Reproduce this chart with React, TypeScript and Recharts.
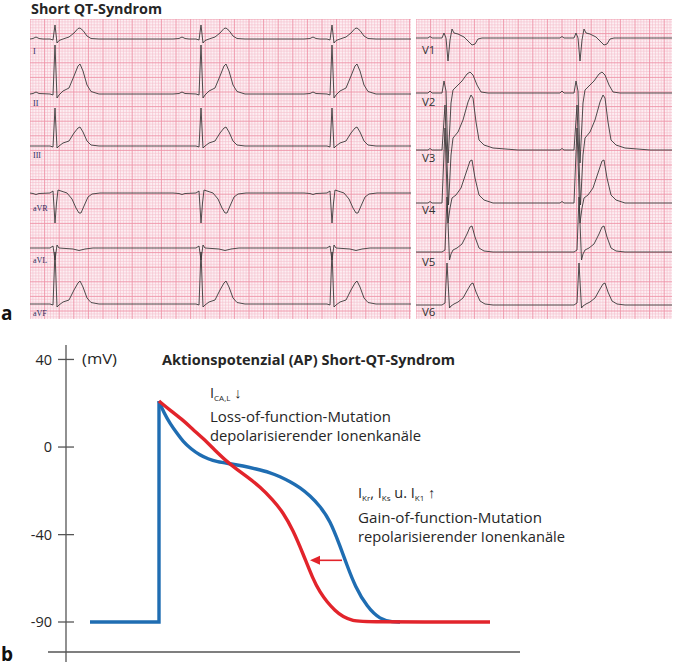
import React from "react";
import { LineChart, Line, XAxis, YAxis, ReferenceLine, ReferenceArea } from "recharts";

type Pt = [number, number];

// ================= Panel a: ECG (units: px of paper, amplitude up from lead baseline) =================
const limbLeadNames = ["I", "II", "III", "aVR", "aVL", "aVF"];
const chestLeadNames = ["V1", "V2", "V3", "V4", "V5", "V6"];
const limbBeatTimes = [25, 171, 302];
const chestBeatTimes = [32, 164];

// one beat per lead: [time offset from QRS, amplitude]
const leadI: Pt[] = [[-28, 0], [-22, 0.5], [-19, 2], [-16, 0.5], [-12, 0], [-5, 0], [-2, -1], [0, 14], [2, -4], [4, -1.5], [8, 0], [14, 2], [19, 6], [23, 10.5], [25, 11], [28, 8.5], [32, 3], [36, 0.5], [44, 0]];
const leadII: Pt[] = [[-28, 0], [-22, 0.5], [-19, 2], [-16, 0.5], [-5, 0], [-2, -1], [0, 49], [2, -4], [4, -1], [8, 3], [14, 6], [19, 18], [23, 28], [25, 30], [28, 23], [32, 9], [36, 2.5], [44, 0]];
const leadIII: Pt[] = [[-28, 0], [-5, 0], [-2, -1], [0, 38], [2, -2], [4, 0], [8, 3], [14, 5], [19, 13], [23, 18], [25, 19], [28, 14], [32, 5], [36, 1], [44, 0]];
const leadAVR: Pt[] = [[-28, 0], [-22, -0.5], [-19, -1.5], [-16, -0.5], [-5, 0], [-2, 2], [0, -30], [1.5, -10], [3, 3], [6, 2], [12, 0], [17, -6], [21, -15], [24, -20], [26, -20], [29, -13], [33, -4], [37, -1], [45, 0]];
const leadAVL: Pt[] = [[-28, 0], [-5, 0], [-2, 2], [0, -12], [2, 3], [4, 0], [18, -1], [24, -2.5], [30, -1], [38, 0]];
const leadAVF: Pt[] = [[-28, 0], [-5, 0], [-2, -1], [0, 52], [2, -3], [4, -1], [8, 2], [14, 4], [19, 14], [23, 21], [25, 23], [28, 17], [32, 6], [36, 1.5], [44, 0]];

const leadV1: Pt[] = [[-30, 0], [-20, 0], [-18, 1.5], [-16, 0], [-6, 0], [-4, 5], [-2, 0], [0, -23], [2, -2], [4, 9], [6, 5], [10, 4], [16, 1], [20, -3], [24, -7], [27, -6], [30, -1], [34, 0]];
const leadV2: Pt[] = [[-30, 0], [-20, 0], [-18, 2], [-16, 0], [-6, 0], [-4, 12], [-2, 2], [0, -70], [3, -10], [5, 3], [8, 6], [14, 12], [19, 19], [22, 21], [25, 18], [29, 8], [33, 1], [40, 0]];
const leadV3: Pt[] = [[-30, 0], [-20, 0], [-18, 1.5], [-16, 0], [-6, 0], [-3, 45], [0.5, -55], [3, -5], [5, 12], [10, 18], [15, 30], [20, 48], [23, 55], [25, 52], [28, 28], [31, 10], [36, 5], [45, 2], [70, 0]];
const leadV4: Pt[] = [[-30, 0], [-20, 0], [-18, 1.5], [-16, 0], [-6, 0], [-3, 75], [0, -20], [2, -5], [4, 5], [8, 8], [13, 15], [18, 30], [22, 42], [24, 43], [27, 25], [31, 8], [36, 3], [45, 0]];
const leadV5: Pt[] = [[-30, 0], [-6, 0], [-3, 2], [-1, 55], [1.5, -8], [3, -2], [5, 2], [9, 4], [14, 8], [19, 18], [22, 25], [24, 26], [27, 15], [31, 4], [36, 1], [45, 0]];
const leadV6: Pt[] = [[-30, 0], [-6, 0], [-3, 2], [-1, 42], [1.5, -3], [3, -1], [6, 1], [10, 3], [15, 7], [20, 16], [23, 21], [25, 22], [28, 13], [32, 4], [37, 1], [45, 0]];

const limbTemplates = [leadI, leadII, leadIII, leadAVR, leadAVL, leadAVF];
const chestTemplates = [leadV1, leadV2, leadV3, leadV4, leadV5, leadV6];

// layout of the strips (distance of each lead baseline below strip top)
const limbBaselines = [20, 75, 127, 174, 229, 285];
const chestBaselines = [19, 74, 131, 184, 233, 286];
const LIMB_W = 381;
const CHEST_W = 256;
const ECG_H = 300;
const MINOR = 2.92;

// ================= Panel b: action potential =================
const yTickValuesMv = [40, 0, -40, -90];
// [time, mV]
const blueRestMv: Pt[] = [[24, -90], [93, -90], [93, 21]];
const blueApMv: Pt[] = [[93, 21], [98, 15.5], [104, 10.8], [111, 6.2], [117, 2.6], [125, -0.9], [134, -3.7], [142, -5.4], [151, -6.7], [164, -7.6], [177, -8.6], [190, -10], [204, -11.6], [214, -13.5], [224, -15.8], [234, -18.5], [244, -22.2], [254, -27], [264, -33.5], [274, -46.5], [281, -57.5], [289, -69.5], [301, -81.4], [314, -88.6], [327, -90], [334, -90]];
const redApMv: Pt[] = [[93, 21], [105, 16.5], [117, 12.3], [127, 8], [137, 4], [149, -1.5], [161, -6.7], [171, -10.2], [181, -13.6], [194, -18.1], [207, -24.2], [217, -29.8], [227, -37.9], [237, -50.9], [247, -65.5], [254, -73], [261, -78.5], [269, -83.5], [277, -87.1], [287, -89.3], [297, -90], [424, -90]];
const arrowMv: Pt[] = [[276, -54.7], [254, -54.7]];

// the drawn axis is compressed below -40 mV
const toAxis = (v: number) => (v >= -40 ? v : -40 + (v + 40) * 0.798);
const AP_DOMAIN: [number, number] = [-93.6, 46.6];

const BLUE = "#1f6db2";
const RED = "#e2242b";
const TEXT = "#262626";
const SANS = "'Open Sans', 'Noto Sans', sans-serif";

function buildTrace(tpl: Pt[], beats: number[], base: number, width: number) {
  const pts: { t: number; v: number }[] = [{ t: 0, v: -base }];
  beats.forEach((b) =>
    tpl.forEach(([dx, dy]) => {
      const t = b + dx;
      if (t > 0 && t < width) pts.push({ t, v: dy - base });
    })
  );
  pts.push({ t: width, v: -base });
  return pts;
}

function steps(max: number, step: number) {
  const out: { v: number; major: boolean }[] = [];
  for (let i = 0; i * step <= max + 0.01; i++) out.push({ v: +(i * step).toFixed(2), major: i % 5 === 0 });
  return out;
}

function EcgStrip({ width, templates, beats, baselines }: { width: number; templates: Pt[][]; beats: number[]; baselines: number[] }) {
  const xs = steps(width, MINOR);
  const ys = steps(ECG_H, MINOR);
  const minorStyle = { stroke: "#f5c0cc", strokeWidth: 0.6 };
  const majorStyle = { stroke: "#ee93a7", strokeWidth: 0.9 };
  return (
    <LineChart width={width} height={ECG_H} margin={{ top: 0, right: 0, bottom: 0, left: 0 }}>
      <XAxis type="number" dataKey="t" domain={[0, width]} hide allowDataOverflow />
      <YAxis type="number" dataKey="v" domain={[-ECG_H, 0]} hide allowDataOverflow />
      <ReferenceArea x1={0} x2={width} y1={-ECG_H} y2={0} fill="#fdeff3" fillOpacity={1} stroke="none" ifOverflow="visible" />
      {xs.filter((g) => !g.major).map((g) => (
        <ReferenceLine key={`vx${g.v}`} x={g.v} {...minorStyle} ifOverflow="visible" />
      ))}
      {ys.filter((g) => !g.major).map((g) => (
        <ReferenceLine key={`hy${g.v}`} y={-g.v} {...minorStyle} ifOverflow="visible" />
      ))}
      {xs.filter((g) => g.major).map((g) => (
        <ReferenceLine key={`VX${g.v}`} x={g.v} {...majorStyle} ifOverflow="visible" />
      ))}
      {ys.filter((g) => g.major).map((g) => (
        <ReferenceLine key={`HY${g.v}`} y={-g.v} {...majorStyle} ifOverflow="visible" />
      ))}
      {templates.map((tpl, i) => (
        <Line
          key={i}
          data={buildTrace(tpl, beats, baselines[i], width)}
          dataKey="v"
          type="linear"
          stroke="#3a3a3a"
          strokeWidth={0.9}
          dot={false}
          activeDot={false}
          isAnimationActive={false}
        />
      ))}
    </LineChart>
  );
}

const toRows = (pts: Pt[]) => pts.map(([t, v]) => ({ t, v: toAxis(v) }));

const ArrowHead = (props: any) => {
  const { cx, cy, index } = props;
  if (index !== 1) return <g key={`a${index}`} />;
  return <polygon key={`a${index}`} points={`${cx - 10},${cy} ${cx},${cy - 4.5} ${cx},${cy + 4.5}`} fill={RED} />;
};

function ApChart() {
  const ticks = yTickValuesMv.map(toAxis);
  const labelOf = (v: number) => {
    const i = ticks.findIndex((t) => Math.abs(t - v) < 0.01);
    return i >= 0 ? String(yTickValuesMv[i]) : "";
  };
  return (
    <LineChart width={674} height={336} margin={{ top: 15, right: 154, bottom: 14, left: 6 }}>
      <XAxis type="number" dataKey="t" domain={[0, 454]} hide allowDataOverflow />
      <YAxis
        type="number"
        dataKey="v"
        width={60}
        domain={AP_DOMAIN}
        ticks={ticks}
        tickFormatter={labelOf}
        axisLine={false}
        tickLine={false}
        tickSize={8}
        tickMargin={6}
        allowDataOverflow
        tick={{ fontSize: 14.5, fill: TEXT, fontFamily: SANS }}
      />
      <ReferenceLine segment={[{ x: 0, y: AP_DOMAIN[1] }, { x: 0, y: -98.2 }]} stroke="#555" strokeWidth={1.3} ifOverflow="visible" />
      <ReferenceLine segment={[{ x: -18, y: AP_DOMAIN[0] }, { x: 454, y: AP_DOMAIN[0] }]} stroke="#555" strokeWidth={1.3} ifOverflow="visible" />
      {ticks.map((t) => (
        <ReferenceLine key={t} segment={[{ x: -8, y: t }, { x: 8, y: t }]} stroke="#555" strokeWidth={1.3} ifOverflow="visible" />
      ))}
      <Line data={toRows(blueRestMv)} dataKey="v" type="linear" stroke={BLUE} strokeWidth={3.4} dot={false} activeDot={false} isAnimationActive={false} />
      <Line data={toRows(blueApMv)} dataKey="v" type="basis" stroke={BLUE} strokeWidth={3.4} dot={false} activeDot={false} isAnimationActive={false} />
      <Line data={toRows(redApMv)} dataKey="v" type="basis" stroke={RED} strokeWidth={3.4} dot={false} activeDot={false} isAnimationActive={false} />
      <Line data={toRows(arrowMv)} dataKey="v" type="linear" stroke={RED} strokeWidth={1.6} dot={ArrowHead} activeDot={false} isAnimationActive={false} />
    </LineChart>
  );
}

export default function App() {
  const limbLabelY = [54, 106, 158, 211, 263, 316];
  const chestLabelY = [54, 106, 162, 214, 266, 316];
  return (
    <div style={{ position: "absolute", left: 0, top: 0, width: 674, height: 666, background: "#fff" }}>
      <div style={{ position: "absolute", left: 30, top: 19 }}>
        <EcgStrip width={LIMB_W} templates={limbTemplates} beats={limbBeatTimes} baselines={limbBaselines} />
      </div>
      <div style={{ position: "absolute", left: 416, top: 19 }}>
        <EcgStrip width={CHEST_W} templates={chestTemplates} beats={chestBeatTimes} baselines={chestBaselines} />
      </div>
      <div style={{ position: "absolute", left: 0, top: 330 }}>
        <ApChart />
      </div>
      <svg width={674} height={666} style={{ position: "absolute", left: 0, top: 0, pointerEvents: "none" }}>
        <g fontFamily={SANS} fill={TEXT}>
          <text x={31} y={13.5} fontSize={14} fontWeight={700} textLength={131} lengthAdjust="spacingAndGlyphs">Short QT-Syndrom</text>
          <text x={1} y={320} fontSize={19} fontWeight={700} fill="#111">a</text>
          <text x={1} y={661} fontSize={19} fontWeight={700} fill="#111">b</text>
          {limbLeadNames.map((n, i) => (
            <text key={n} x={33} y={limbLabelY[i]} fontSize={8} fontFamily="'Liberation Serif', serif" fill="#2d2d5c">{n}</text>
          ))}
          {chestLeadNames.map((n, i) => (
            <text key={n} x={422} y={chestLabelY[i]} fontSize={11.5} fill="#333">{n}</text>
          ))}
          <text x={82} y={364} fontSize={14.5} textLength={35} lengthAdjust="spacingAndGlyphs">(mV)</text>
          <text x={162} y={365} fontSize={14.5} fontWeight={700} textLength={293} lengthAdjust="spacingAndGlyphs">Aktionspotenzial (AP) Short-QT-Syndrom</text>
          <text x={210} y={398} fontSize={14.5}>
            I<tspan fontSize={8} dy={3}>CA,L</tspan>
            <tspan dy={-3}> ↓</tspan>
          </text>
          <text x={210} y={421.5} fontSize={14.5} textLength={181} lengthAdjust="spacingAndGlyphs">Loss-of-function-Mutation</text>
          <text x={210} y={441} fontSize={14.5} textLength={211} lengthAdjust="spacingAndGlyphs">depolarisierender Ionenkanäle</text>
          <text x={358} y={498} fontSize={14.5}>
            I<tspan fontSize={8} dy={3}>Kr</tspan>
            <tspan dy={-3}>, I</tspan>
            <tspan fontSize={8} dy={3}>Ks</tspan>
            <tspan dy={-3}> u. I</tspan>
            <tspan fontSize={8} dy={3}>K1</tspan>
            <tspan dy={-3}> ↑</tspan>
          </text>
          <text x={358} y={522.5} fontSize={14.5} textLength={184} lengthAdjust="spacingAndGlyphs">Gain-of-function-Mutation</text>
          <text x={358} y={542} fontSize={14.5} textLength={207} lengthAdjust="spacingAndGlyphs">repolarisierender Ionenkanäle</text>
        </g>
      </svg>
    </div>
  );
}
